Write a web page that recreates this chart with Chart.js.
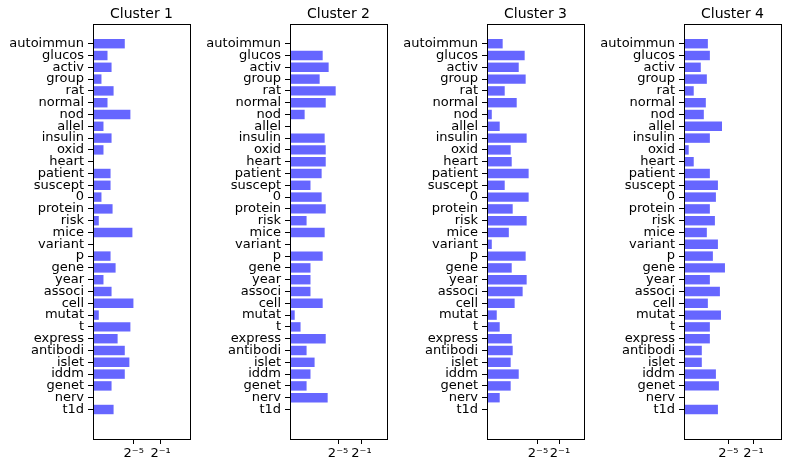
<!DOCTYPE html>
<html>
<head>
<meta charset="utf-8">
<script src="https://cdn.jsdelivr.net/npm/chart.js@4.4.1/dist/chart.umd.min.js"></script>
<style>
  body { margin: 0; background: #fff; }
  #wrap { position: relative; width: 791px; height: 471px; }
  canvas { position: absolute; top: 0; }
</style>
</head>
<body>
<div id="wrap"></div>
<script>
// terms, top to bottom
const terms = ["autoimmun", "glucos", "activ", "group", "rat", "normal", "nod", "allel",
  "insulin", "oxid", "heart", "patient", "suscept", "0", "protein", "risk", "mice",
  "variant", "p", "gene", "year", "associ", "cell", "mutat", "t", "express",
  "antibodi", "islet", "iddm", "genet", "nerv", "t1d"];

const clusterNames = ["Cluster 1", "Cluster 2", "Cluster 3", "Cluster 4"];

// weights per cluster, same order as terms (null = no bar)
const cluster1 = [0.0124, 0.00209, 0.00317, 0.00112, 0.00391, 0.00209, 0.0221, 0.00138,
  0.00317, 0.00138, null, 0.00286, 0.00286, 0.00112, 0.00352, 0.00085, 0.0272,
  null, 0.00286, 0.00481, 0.00138, 0.00317, 0.0302, 0.00085, 0.0221, 0.00592,
  0.0124, 0.0199, 0.0124, 0.00317, null, 0.00391];
const cluster2 = [null, 0.00508, 0.0103, 0.00355, 0.0237, 0.00729, 0.0006, null,
  0.00643, 0.00729, 0.00729, 0.00449, 0.0012, 0.00449, 0.00729, 0.000756, 0.00643,
  null, 0.00508, 0.0012, 0.0012, 0.0012, 0.00508, 0.000185, 0.00037, 0.00729,
  0.000756, 0.00195, 0.0012, 0.000756, 0.00916, null];
const cluster3 = [0.000365, 0.00584, 0.00276, 0.00661, 0.000472, 0.00214, 0.0000925, 0.000251,
  0.0075, 0.001, 0.00114, 0.00962, 0.000472, 0.00962, 0.00129, 0.0075, 0.000793,
  0.0000925, 0.00661, 0.00114, 0.0075, 0.00452, 0.00165, 0.000173, 0.000251, 0.00114,
  0.00129, 0.001, 0.00276, 0.001, 0.000251, null];
const cluster4 = [0.00329, 0.0041, 0.00151, 0.00294, 0.000695, 0.00263, 0.00211, 0.0156,
  0.0041, 0.0004, 0.000695, 0.0041, 0.00996, 0.00798, 0.0041, 0.00714, 0.00294,
  0.00996, 0.00572, 0.0216, 0.0041, 0.0124, 0.00329, 0.0139, 0.0041, 0.0041,
  0.00169, 0.00169, 0.00798, 0.0111, null, 0.00996];

const xTickValues = [0.03125, 0.5];
const xTickLabels = ["2\u207B\u2075", "2\u207B\u00B9"];

// axis limits (log), per panel
const xMins = [0.000468, 0.000106, 0.0000506, 0.000238];
const xMax = 10.3;

const series = [cluster1, cluster2, cluster3, cluster4];
const font = "'DejaVu Sans', sans-serif";

// one empty slot above and two below, like the reference margins
const labels = [""].concat(terms, ["", ""]);

// box round the plot; top edge sits a bit above the category area
const frame = {
  id: "frame",
  afterDraw(chart) {
    const { ctx, chartArea: a } = chart;
    const top = Math.round(a.top) - 2;
    ctx.save();
    ctx.strokeStyle = "#000";
    ctx.lineWidth = 1;
    ctx.strokeRect(Math.round(a.left) + 0.5, top + 0.5,
      Math.round(a.right - a.left), Math.round(a.bottom) - top);
    ctx.restore();
  }
};

const wrap = document.getElementById("wrap");

series.forEach((vals, i) => {
  const canvas = document.createElement("canvas");
  canvas.width = 197;
  canvas.height = 471;
  canvas.style.left = (197 * i) + "px";
  wrap.appendChild(canvas);

  new Chart(canvas, {
    type: "bar",
    data: {
      labels: labels,
      datasets: [{
        data: [null].concat(vals, [null, null]),
        backgroundColor: "rgba(0,0,255,0.6)",
        borderWidth: 0,
        barPercentage: 1,
        categoryPercentage: 0.8
      }]
    },
    options: {
      indexAxis: "y",
      responsive: false,
      animation: false,
      layout: { padding: { left: 0, right: 7, top: 0, bottom: 0 } },
      plugins: {
        legend: { display: false },
        tooltip: { enabled: false },
        title: {
          display: true,
          fullSize: false,
          text: clusterNames[i],
          color: "#000",
          font: { family: font, size: 14, weight: "normal" },
          padding: { top: 5.6, bottom: 3.6 }
        }
      },
      scales: {
        x: {
          type: "logarithmic",
          min: xMins[i],
          max: xMax,
          border: { display: false },
          grid: { drawOnChartArea: false, tickLength: 5, tickColor: "#000" },
          afterBuildTicks: (scale) => {
            scale.ticks = xTickValues.map((v) => ({ value: v }));
          },
          afterFit: (scale) => { scale.height = 32; },
          ticks: {
            color: "#000",
            padding: 2,
            maxRotation: 0,
            autoSkip: false,
            font: { family: font, size: 13 },
            callback: (v, idx) => xTickLabels[idx]
          }
        },
        y: {
          type: "category",
          border: { display: false },
          grid: {
            offset: false,
            drawOnChartArea: false,
            tickLength: 5,
            tickColor: (c) => (labels[c.index] === "" ? "rgba(0,0,0,0)" : "#000")
          },
          afterFit: (scale) => { scale.width = 93; },
          ticks: {
            color: "#000",
            padding: 4,
            autoSkip: false,
            font: { family: font, size: 13 }
          }
        }
      }
    },
    plugins: [frame]
  });
});
</script>
</body>
</html>
